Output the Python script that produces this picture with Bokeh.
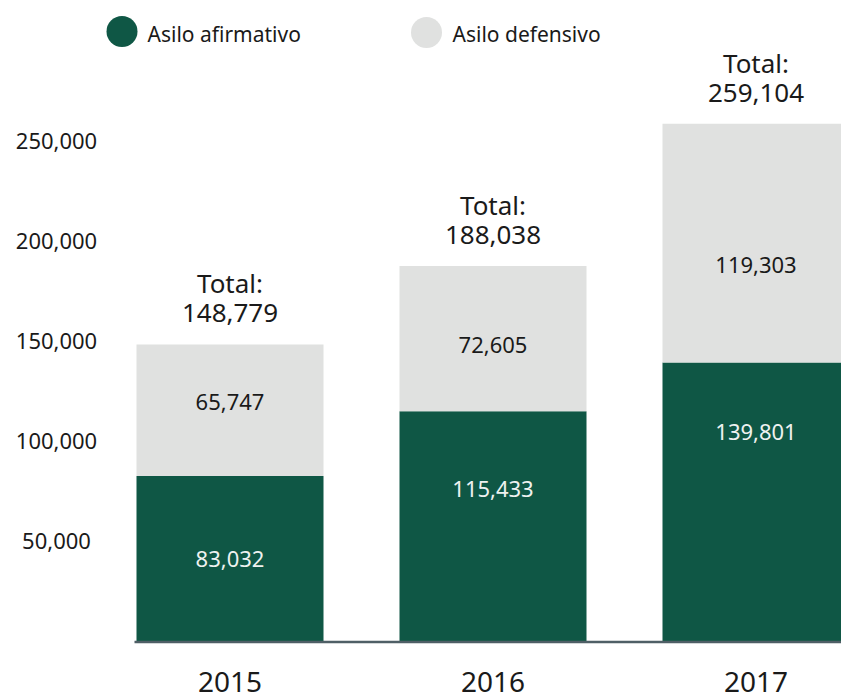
from bokeh.plotting import figure
from bokeh.models import Range1d, ColumnDataSource
from bokeh.core.properties import value
from bokeh.embed import file_html
from bokeh.resources import INLINE

# ---- data ----
years = ["2015", "2016", "2017"]
afirmativo = [83032, 115433, 139801]
defensivo = [65747, 72605, 119303]
totals = [148779, 188038, 259104]
y_ticks = [50000, 100000, 150000, 200000, 250000]
series_names = ["Asilo afirmativo", "Asilo defensivo"]

# ---- layout (label anchor positions, in value units) ----
afirm_label_pos = [41750, 76500, 105250]
def_label_pos = [120000, 148500, 188500]

FONT = value("Noto Sans")
DARK = "#0f5745"
GREY = "#e0e1e0"
TXT = "#1a1a1a"

W, H = 841, 700
# picture-pixel mapping helpers
X0_PAGE, X_UNIT = 229.5, 263.0      # centre of first bar, px per category
Y0_PAGE, Y_PER_PX = 641.5, 500.0    # baseline, value units per px

def dx(px):
    return (px - X0_PAGE) / X_UNIT

def dy(py):
    return (Y0_PAGE - py) * Y_PER_PX

p = figure(width=W, height=H, output_backend="svg", toolbar_location=None,
           x_range=Range1d(dx(0), dx(W)), y_range=Range1d(dy(H), dy(0)),
           min_border=0)
p.axis.visible = False
p.grid.visible = False
p.outline_line_color = None
p.background_fill_color = "white"
p.border_fill_color = "white"

xs = list(range(len(years)))
bar_w = 187 / X_UNIT
src = ColumnDataSource(dict(
    x=xs, year=years, afirm=afirmativo, defn=defensivo, total=totals,
    top_def=[a + d for a, d in zip(afirmativo, defensivo)],
    afirm_lbl=[f"{v:,}" for v in afirmativo],
    def_lbl=[f"{v:,}" for v in defensivo],
    total_lbl=[f"{v:,}" for v in totals],
    afirm_pos=afirm_label_pos, def_pos=def_label_pos,
))

p.vbar(x="x", width=bar_w, bottom=0, top="afirm", source=src,
       fill_color=DARK, line_color=None)
p.vbar(x="x", width=bar_w, bottom="afirm", top="top_def", source=src,
       fill_color=GREY, line_color=None)

# baseline
p.segment(x0=[xs[0] - bar_w / 2 - 2 / X_UNIT], y0=[0], x1=[dx(W)], y1=[0],
          line_color="#4f5f66", line_width=2.5)

# inner value labels
p.text(x="x", y="afirm_pos", text="afirm_lbl", source=src, text_font=FONT,
       text_font_size="22px", text_color="#eef2f0", text_align="center",
       text_baseline="middle")
p.text(x="x", y="def_pos", text="def_lbl", source=src, text_font=FONT,
       text_font_size="22px", text_color=TXT, text_align="center",
       text_baseline="middle")

# totals above bars
p.text(x="x", y="top_def", text=value("Total:"), source=src, text_font=FONT,
       text_font_size="26px", text_color=TXT, text_align="center",
       text_baseline="middle", y_offset=-61)
p.text(x="x", y="top_def", text="total_lbl", source=src, text_font=FONT,
       text_font_size="26px", text_color=TXT, text_align="center",
       text_baseline="middle", y_offset=-31)

# year labels
p.text(x="x", y=0, text="year", source=src, text_font=FONT,
       text_font_size="28px", text_color=TXT, text_align="center",
       text_baseline="middle", y_offset=40)

# y tick labels
p.text(x=[dx(56)] * len(y_ticks), y=y_ticks, text=[f"{t:,}" for t in y_ticks],
       text_font=FONT, text_font_size="22px", text_color=TXT,
       text_align="center", text_baseline="middle", y_offset=-1)

# legend
p.scatter(x=[dx(121.5), dx(426)], y=[dy(31), dy(32)], size=31,
          fill_color=[DARK, GREY], line_color=None)
p.text(x=[dx(147), dx(452)], y=[dy(33), dy(33)], text=series_names,
       text_font=FONT, text_font_size="21px", text_color=TXT,
       text_align="left", text_baseline="middle")

open("out.html", "w").write(file_html(p, INLINE))
